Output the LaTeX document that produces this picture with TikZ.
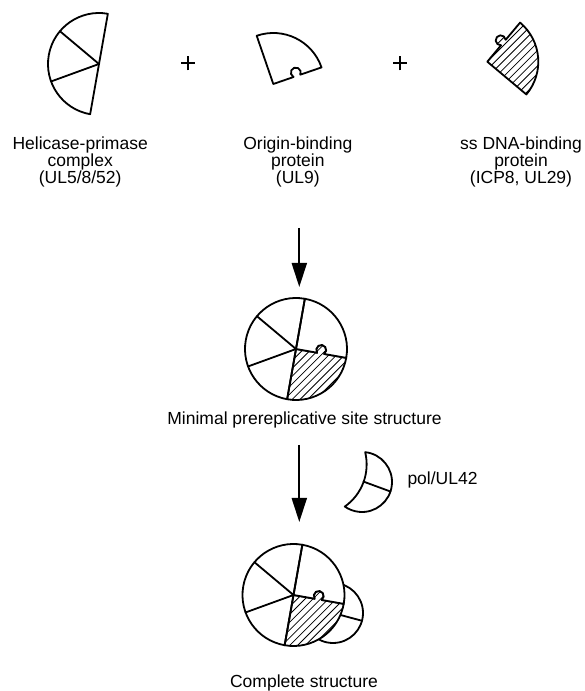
\documentclass[tikz,border=0pt]{standalone}
\usepackage{fontspec}
\setmainfont{Liberation Sans}
\usetikzlibrary{arrows.meta}

% Radius of the protein pieces
\newcommand\PR{51}

% Helicase-primase complex: half disc in three sectors
\newcommand\hpdraw{%
  \draw[outline] (80:\PR) arc[start angle=80,end angle=260,radius=\PR] -- cycle;
  \draw[outline] (0,0) -- (140:\PR) (0,0) -- (200:\PR);
}
% Origin-binding protein: quarter disc with a notch on its lower edge
\newcommand\obppath{(0,0) -- (-10:21.43) arc[start angle=214.4,end angle=-54.4,radius=5]
  -- (-10:\PR) arc[start angle=-10,end angle=80,radius=\PR] -- cycle}
% ss DNA-binding protein: quarter disc with a knob on its upper edge
\newcommand\ssbpath{(0,0) -- (260:\PR) arc[start angle=260,end angle=350,radius=\PR]
  -- (350:28.57) arc[start angle=-54.4,end angle=214.4,radius=5] -- cycle}
\newcommand\obpdraw{\fill[white] \obppath; \draw[outline] \obppath;}
% #1 = rotation of the enclosing scope, so the hatching stays at 45 degrees
\newcommand\ssbdraw[1]{%
  \fill[white] \ssbpath;
  \begin{scope}
    \clip \ssbpath;
    \begin{scope}[rotate={45-#1}]
      \foreach \k in {-11,...,11} \draw[hatch] (-60,\k*5.5) -- (60,\k*5.5);
    \end{scope}
  \end{scope}
  \draw[outline] \ssbpath;
}

\begin{document}
\begin{tikzpicture}[x=1pt,y=1pt,
  outline/.style={line width=1.8pt, line join=round, line cap=round},
  hatch/.style={line width=0.8pt},
  lbl/.style={font=\fontsize{17.5}{17}\selectfont, align=center, inner sep=0pt},
  flow/.style={line width=2pt, -{Triangle[length=24pt,width=15pt]}},
  plus/.style={line width=2.2pt}]
\useasboundingbox (0,0) rectangle (585,691);

% --- separate components ---
\begin{scope}[shift={(99,627)}]
  \hpdraw
\end{scope}
\begin{scope}[shift={(273.3,607)},rotate=29]
  \obpdraw
\end{scope}
\begin{scope}[shift={(487.3,629.3)},rotate=60]
  \ssbdraw{60}
\end{scope}

% plus signs
\draw[plus] (181.3,627.7) -- (195.3,627.7) (188.3,620.7) -- (188.3,634.7);
\draw[plus] (393,627.7) -- (407,627.7) (400,620.7) -- (400,634.7);

\node[lbl, anchor=north] (hpl) at (80.2,554) {Helicase-primase\\complex\\(UL5/8/52)};
\node[lbl, anchor=north] (obl) at (297.8,554) {Origin-binding\\protein\\(UL9)};
\node[lbl, anchor=north] (ssl) at (521,554) {ss DNA-binding\\protein\\(ICP8, UL29)};

% --- minimal prereplicative site structure ---
\coordinate (a1s) at (299.3,463);
\coordinate (a1e) at (299.3,404);
\draw[flow] (a1s) -- (a1e);

\begin{scope}[shift={(296,342)}]
  \ssbdraw{0}
  \obpdraw
  \hpdraw
\end{scope}
\node[lbl, anchor=base] (mpl) at (304.5,266) {Minimal prereplicative site structure};

% --- polymerase / UL42 ---
\coordinate (a2s) at (299.3,246);
\coordinate (a2e) at (299.3,169);
\draw[flow] (a2s) -- (a2e);

\begin{scope}[shift={(362,209)}]
  \draw[outline] (84:30) arc[start angle=84,end angle=-125,radius=30]
    arc[start angle=-54.85,end angle=13.86,radius=51.5] -- cycle;
  \draw[outline] (-18.5:30) -- (1.5,0.4);
\end{scope}
\node[lbl, anchor=base west] (pol) at (407.3,206.7) {pol/UL42};

% --- complete structure ---
\draw[outline, fill=white] (333,78) circle[radius=30];
\draw[outline] (333,78) -- +(-15:30);
\begin{scope}[shift={(293.5,96)}]
  \fill[white] (0,0) circle[radius=\PR];
  \ssbdraw{0}
  \obpdraw
  \hpdraw
\end{scope}
\node[lbl, anchor=base] (cst) at (304,4) {Complete structure};
\end{tikzpicture}
\end{document}
